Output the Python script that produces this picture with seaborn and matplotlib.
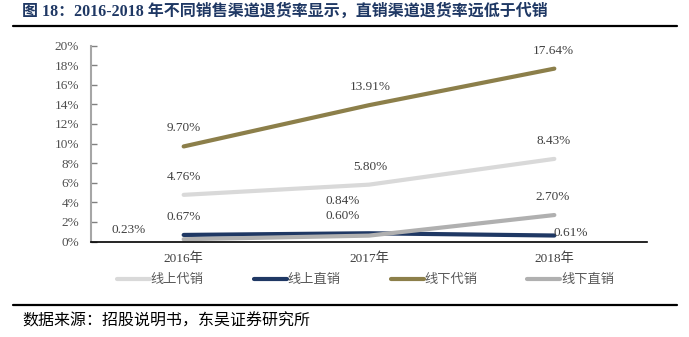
import matplotlib
matplotlib.use("Agg")
import matplotlib.pyplot as plt
import seaborn as sns
import pandas as pd
from matplotlib.lines import Line2D

years = ["2016年", "2017年", "2018年"]
series_names = ["线上代销", "线上直销", "线下代销", "线下直销"]
online_agent = [4.76, 5.80, 8.43]
online_direct = [0.67, 0.84, 0.61]
offline_agent = [9.70, 13.91, 17.64]
offline_direct = [0.23, 0.60, 2.70]
colors = ["#D9D9D9", "#1F3864", "#8C7F4A", "#B0B0B0"]
yticks = [0, 2, 4, 6, 8, 10, 12, 14, 16, 18, 20]

sns.set_theme(style="white")
plt.rcParams['font.family'] = ['Liberation Serif', 'Noto Sans CJK SC', 'DejaVu Sans']

values = [online_agent, online_direct, offline_agent, offline_direct]
rows = []
for name, vals in zip(series_names, values):
    for i, v in enumerate(vals):
        rows.append({"x": i, "year": years[i], "series": name, "value": v})
df = pd.DataFrame(rows)

fig = plt.figure(figsize=(6.89, 3.37), dpi=100)
ax = fig.add_axes([91/689, 1-241.5/337, (647-91)/689, (241.5-45.5)/337])

sns.lineplot(data=df, x="x", y="value", hue="series", hue_order=series_names,
             palette=colors, linewidth=3.0, ax=ax, legend=False, sort=False)

ax.set_xlim(-0.5, 2.5)
ax.set_ylim(0, 20)
ax.set_xticks(range(len(years)))
ax.set_xticklabels(years, color="#404040", fontsize=9.5)
ax.set_yticks(yticks)
ax.set_yticklabels([f"{t}%" for t in yticks], color="#505050", fontsize=9.5)
ax.set_xlabel("")
ax.set_ylabel("")
for s in ["top", "right"]:
    ax.spines[s].set_visible(False)
ax.spines["left"].set_color("#A6A6A6")
ax.spines["left"].set_linewidth(1.5)
ax.spines["bottom"].set_color("#000000")
ax.spines["bottom"].set_linewidth(1.2)
ax.tick_params(axis="y", direction="in", length=4, width=1, color="#808080", pad=8.5, left=True)
ax.tick_params(axis="x", length=0, pad=8)
ax.grid(False)

# data labels: (series index, point index) -> (dx, dy) in pixels
offsets = {
    (0, 0): (0, 18), (0, 1): (1, 18), (0, 2): (-1, 18),
    (1, 0): (0, 18), (1, 1): (-26, 32), (1, 2): (16, 3),
    (2, 0): (0, 18), (2, 1): (1, 18), (2, 2): (-1, 18),
    (3, 0): (-55, 9), (3, 1): (-26, 20), (3, 2): (-2, 18),
}
for si, vals in enumerate(values):
    for pi, v in enumerate(vals):
        dx, dy = offsets[(si, pi)]
        ax.annotate(f"{v:.2f}%", xy=(pi, v), xytext=(dx, dy), textcoords="offset pixels",
                    ha="center", va="center", fontsize=9.5, color="#404040")

handles = [Line2D([0], [0], color=c, lw=3.0) for c in colors]
fig.legend(handles, series_names, loc="center", bbox_to_anchor=(365.5/689, 1-280/337),
           ncol=4, frameon=False, handlelength=2.5, handletextpad=0.05, columnspacing=3.8,
           prop={"size": 9.5}, labelcolor="#595959")

fig.text(22/689, 1-12/337, "图 18：2016-2018 年不同销售渠道退货率显示，直销渠道退货率远低于代销",
         fontsize=11.5, fontweight="bold", color="#1F3864", ha="left", va="center")
fig.add_artist(Line2D([13/689, 677/689], [1-26/337, 1-26/337], color="black", lw=1.6))
fig.add_artist(Line2D([13/689, 677/689], [1-305/337, 1-305/337], color="black", lw=1.6))
fig.text(22/689, 1-322/337, "数据来源：招股说明书，东吴证券研究所",
         fontsize=11.5, color="black", ha="left", va="center")

fig.savefig("out.png", dpi=100)
